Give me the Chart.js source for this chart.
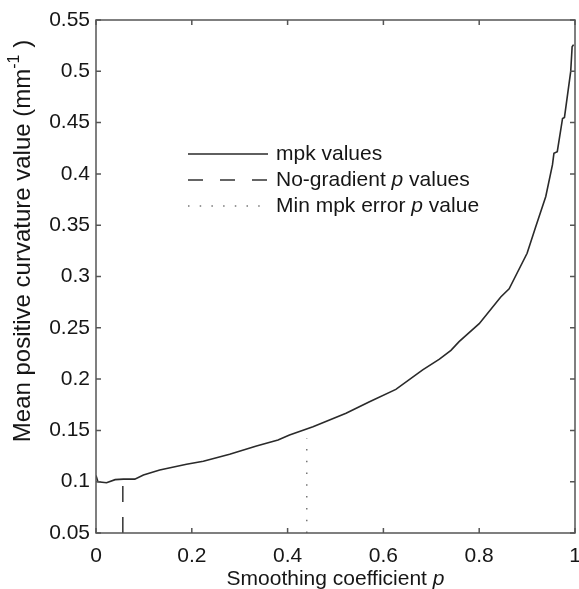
<!DOCTYPE html>
<html>
<head>
<meta charset="utf-8">
<script src="https://cdn.jsdelivr.net/npm/chart.js@4.4.1/dist/chart.umd.min.js"></script>
<style>
  html, body { margin: 0; padding: 0; background: #fff; }
  #wrap { width: 579px; height: 589px; }
</style>
</head>
<body>
<div id="wrap"><canvas id="c" width="579" height="589"></canvas></div>
<script>
// mpk curve (smoothing coefficient p -> mean positive curvature)
const pValues = [0, 0.004, 0.022, 0.04, 0.057, 0.081, 0.099, 0.133, 0.189, 0.224, 0.279, 0.335, 0.38, 0.404,
  0.453, 0.522, 0.571, 0.626, 0.682, 0.717, 0.741, 0.758, 0.8, 0.845, 0.8625, 0.9, 0.918, 0.939, 0.953,
  0.956, 0.963, 0.974, 0.978, 0.991, 0.994, 0.997]
const mpkValues = [0.106, 0.1, 0.099, 0.102, 0.1025, 0.1025, 0.1065, 0.1114, 0.117, 0.12, 0.1267, 0.1348, 0.1406, 0.1455,
  0.1536, 0.1667, 0.178, 0.19, 0.209, 0.2195, 0.228, 0.2365, 0.254, 0.28, 0.288, 0.3226, 0.3485, 0.378, 0.409,
  0.42, 0.4216, 0.454, 0.455, 0.4996, 0.524, 0.526]

// no-gradient p value and min-error p value markers
const noGradientP = 0.056
const noGradientTop = 0.097
const minErrorP = 0.44
const minErrorTop = 0.1426

const yMin = 0.05, yMax = 0.55, yStep = 0.05
const xMin = 0, xMax = 1, xStep = 0.2

const legendLabels = ['mpk values', 'No-gradient |p| values', 'Min mpk error |p| value']

const FONT = "'Liberation Sans', Arial, sans-serif"
const TEXT = '#161616'

const curveData = pValues.map((p, i) => ({ x: p, y: mpkValues[i] }))

// draws box, inward ticks, axis titles and the legend
const decorations = {
	id: 'decorations',
	afterDraw(chart) {
		const { ctx, chartArea: a, scales } = chart
		ctx.save()
		ctx.strokeStyle = '#555'
		ctx.lineWidth = 1.5
		ctx.strokeRect(a.left, a.top, a.right - a.left, a.bottom - a.top)

		// inward ticks, MATLAB style, on all four sides
		ctx.beginPath()
		scales.x.ticks.forEach(t => {
			const px = scales.x.getPixelForValue(t.value)
			ctx.moveTo(px, a.bottom); ctx.lineTo(px, a.bottom - 5)
			ctx.moveTo(px, a.top); ctx.lineTo(px, a.top + 5)
		})
		scales.y.ticks.forEach(t => {
			const py = scales.y.getPixelForValue(t.value)
			ctx.moveTo(a.left, py); ctx.lineTo(a.left + 5, py)
			ctx.moveTo(a.right, py); ctx.lineTo(a.right - 5, py)
		})
		ctx.stroke()

		ctx.fillStyle = TEXT
		ctx.textBaseline = 'middle'

		// x title with italic p
		const xt1 = 'Smoothing coefficient ', xt2 = 'p'
		ctx.font = `21px ${FONT}`
		const w1 = ctx.measureText(xt1).width
		ctx.font = `italic 21px ${FONT}`
		const w2 = ctx.measureText(xt2).width
		let sx = (a.left + a.right) / 2 - (w1 + w2) / 2
		ctx.textAlign = 'left'
		ctx.font = `21px ${FONT}`
		ctx.fillText(xt1, sx, 579)
		ctx.font = `italic 21px ${FONT}`
		ctx.fillText(xt2, sx + w1, 579)

		// y title, rotated, with superscript -1
		ctx.save()
		ctx.translate(23, 241)
		ctx.rotate(-Math.PI / 2)
		const ya = 'Mean positive curvature value (mm', ysup = '-1', yb = ' )'
		ctx.font = `24px ${FONT}`
		const wa = ctx.measureText(ya).width
		const wb = ctx.measureText(yb).width
		ctx.font = `16px ${FONT}`
		const ws = ctx.measureText(ysup).width
		let yx = -(wa + ws + wb) / 2
		ctx.font = `24px ${FONT}`
		ctx.fillText(ya, yx, 0)
		ctx.font = `16px ${FONT}`
		ctx.fillText(ysup, yx + wa, -8)
		ctx.font = `24px ${FONT}`
		ctx.fillText(yb, yx + wa + ws, 0)
		ctx.restore()

		// legend
		const rows = [154, 180, 206]
		const styles = [
			{ dash: [], color: '#2a2a2a' },
			{ dash: [15, 17], color: '#333' },
			{ dash: [1.5, 10.2], color: '#777' }
		]
		rows.forEach((ry, i) => {
			ctx.beginPath()
			ctx.setLineDash(styles[i].dash)
			ctx.strokeStyle = styles[i].color
			ctx.lineWidth = 1.6
			ctx.moveTo(188, ry); ctx.lineTo(268, ry)
			ctx.stroke()
			ctx.setLineDash([])
			// pieces between bars are italic
			let tx = 276
			legendLabels[i].split('|').forEach((part, k) => {
				ctx.font = (k % 2 ? 'italic ' : '') + `21px ${FONT}`
				ctx.fillText(part, tx, ry)
				tx += ctx.measureText(part).width
			})
		})
		ctx.restore()
	}
}

new Chart(document.getElementById('c'), {
	type: 'line',
	data: {
		datasets: [
			{
				label: 'mpk values',
				data: curveData,
				borderColor: '#2a2a2a',
				borderWidth: 1.6,
				pointRadius: 0,
				tension: 0
			},
			{
				label: 'No-gradient p values',
				data: [{ x: noGradientP, y: yMin }, { x: noGradientP, y: noGradientTop }],
				borderColor: '#333',
				borderWidth: 1.5,
				borderDash: [16, 15],
				pointRadius: 0
			},
			{
				label: 'Min mpk error p value',
				data: [{ x: minErrorP, y: yMin }, { x: minErrorP, y: minErrorTop }],
				borderColor: '#777',
				borderWidth: 1.5,
				borderDash: [1.5, 10.3],
				pointRadius: 0
			}
		]
	},
	options: {
		responsive: false,
		animation: false,
		layout: { padding: { top: 20, right: 4, left: 0, bottom: 0 } },
		plugins: {
			legend: { display: false },
			tooltip: { enabled: false }
		},
		scales: {
			x: {
				type: 'linear',
				min: xMin,
				max: xMax,
				grid: { display: false, drawTicks: false },
				border: { display: false },
				ticks: {
					stepSize: xStep,
					padding: 11,
					color: TEXT,
					font: { size: 21, family: FONT },
					maxRotation: 0,
					callback: v => String(Math.round(v * 10) / 10)
				},
				afterFit(scale) {
					scale.height = 56
					scale.paddingLeft = 0
					scale.paddingRight = 0
				}
			},
			y: {
				min: yMin,
				max: yMax,
				grid: { display: false, drawTicks: false },
				border: { display: false },
				ticks: {
					stepSize: yStep,
					padding: 6,
					color: TEXT,
					font: { size: 21, family: FONT },
					callback: v => String(Math.round(v * 100) / 100)
				},
				afterFit(scale) {
					scale.width = 96
					scale.paddingTop = 0
					scale.paddingBottom = 0
				}
			}
		}
	},
	plugins: [decorations]
})
</script>
</body>
</html>
